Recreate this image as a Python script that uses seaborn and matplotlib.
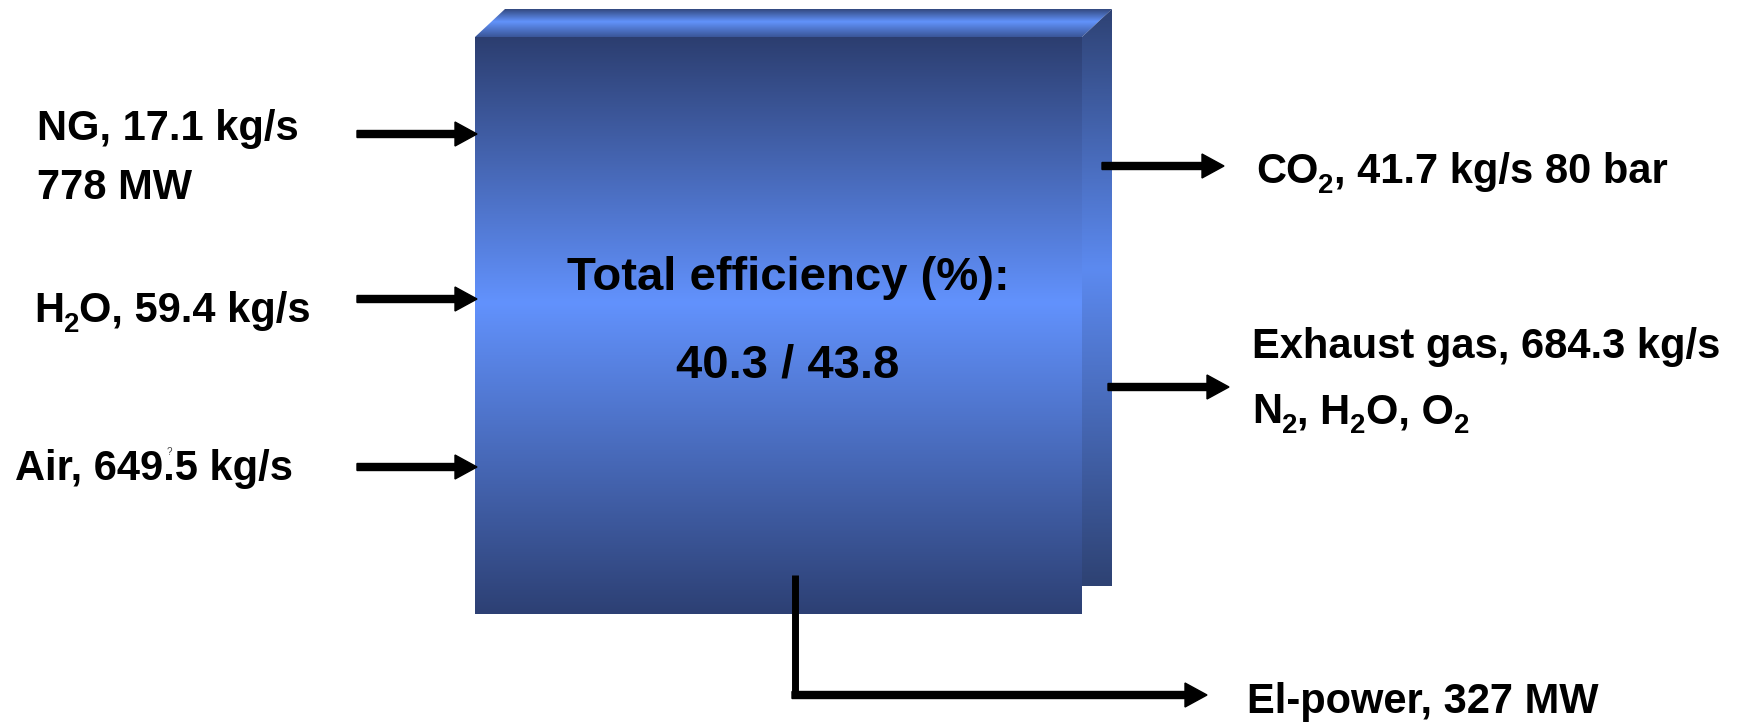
import re
import numpy as np
import matplotlib
matplotlib.use("Agg")
import matplotlib.pyplot as plt
from matplotlib.patches import Polygon
from matplotlib.colors import LinearSegmentedColormap
import seaborn as sns

# ---- labels of the process streams ("_2" marks a subscript digit) ----
inflow_labels = ["NG, 17.1 kg/s", "778 MW", "H_2O, 59.4 kg/s", "Air, 649.5 kg/s"]
outflow_labels = ["CO_2, 41.7 kg/s 80 bar", "Exhaust gas, 684.3 kg/s",
                  "N_2, H_2O, O_2", "El-power, 327 MW"]
efficiency_title = "Total efficiency (%):"
efficiency_values = [40.3, 43.8]

sns.set_theme(style="white")
plt.rcParams["font.family"] = ["Liberation Sans", "DejaVu Sans"]
plt.rcParams["text.color"] = "black"

W, H = 1749, 724
fig = plt.figure(figsize=(W / 100, H / 100), dpi=100)
ax = fig.add_axes([0, 0, 1, 1])
ax.set_xlim(0, W)
ax.set_ylim(H, 0)
ax.axis("off")

# ---- the unit block, drawn as a shaded 3-D box ----
face_cmap = LinearSegmentedColormap.from_list(
    "face", [(0.0, "#2c3e70"), (0.46, "#6292fd"), (1.0, "#2d4074")])
top_cmap = LinearSegmentedColormap.from_list(
    "top", [(0.0, "#33497f"), (0.45, "#6293fb"), (1.0, "#3a5698")])
side_cmap = LinearSegmentedColormap.from_list(
    "side", [(0.0, "#2e4274"), (0.45, "#5c8af0"), (1.0, "#2e4273")])

fx0, fx1, fy0, fy1 = 475, 1082, 37, 614
dx, dy = 30, 28
grad = np.linspace(0, 1, 256).reshape(-1, 1)

def shaded(poly, cmap, x0, x1, y0, y1):
    patch = Polygon(poly, closed=True, facecolor="none", edgecolor="none")
    ax.add_patch(patch)
    im = ax.imshow(grad, cmap=cmap, aspect="auto", origin="upper",
                   extent=(x0, x1, y1, y0), interpolation="bilinear", zorder=1)
    im.set_clip_path(patch)

front = [(fx0, fy0), (fx1, fy0), (fx1, fy1), (fx0, fy1)]
top = [(fx0, fy0), (fx0 + dx, fy0 - dy), (fx1 + dx, fy0 - dy), (fx1, fy0)]
side = [(fx1, fy0), (fx1 + dx, fy0 - dy), (fx1 + dx, fy1 - dy), (fx1, fy1)]
shaded(front, face_cmap, fx0, fx1, fy0, fy1)
shaded(top, top_cmap, fx0, fx1 + dx, fy0 - dy, fy0)
shaded(side, side_cmap, fx1, fx1 + dx, fy0 - dy, fy1 - dy)

ax.set_xlim(0, W)
ax.set_ylim(H, 0)

# ---- stream arrows ----
arrow_kw = dict(width=7, head_width=24, head_length=22,
                length_includes_head=True, color="black", zorder=3)
for y in (134, 299, 467):
    ax.arrow(357, y, 120, 0, **arrow_kw)
ax.arrow(1102, 166, 122, 0, **arrow_kw)
ax.arrow(1108, 387, 121, 0, **arrow_kw)
ax.plot([795, 795], [575, 698], color="black", lw=5, solid_capstyle="butt", zorder=3)
ax.arrow(792, 695, 415, 0, **arrow_kw)

# ---- labels, written piece by piece so subscripts sit low and small ----
renderer = fig.canvas.get_renderer()
fs = 30

def label(x, y, s, size=fs):
    for piece in re.split(r"(_\d)", s):
        if not piece:
            continue
        sub = piece.startswith("_")
        text = piece[1:] if sub else piece
        t = ax.text(x, y + (10 if sub else 0), text,
                    fontsize=size * (0.66 if sub else 1.0), fontweight="bold",
                    color="black", ha="left", va="baseline", zorder=4)
        bb = t.get_window_extent(renderer=renderer)
        x += bb.width

in_pos = [(37, 140), (37, 199), (34, 322), (15, 480)]
for s, (x, y) in zip(inflow_labels, in_pos):
    label(x, y, s)
ax.text(169, 455, "?", fontsize=7, color="#444444", ha="center", va="baseline",
        fontweight="normal", zorder=5)

out_pos = [(1256, 183), (1252, 358), (1252, 423), (1247, 713)]
for s, (x, y) in zip(outflow_labels, out_pos):
    label(x, y, s)

ax.text(788, 290, efficiency_title, fontsize=34, fontweight="bold", color="black",
        ha="center", va="baseline", zorder=4)
ax.text(788, 377, f"{efficiency_values[0]} / {efficiency_values[1]}", fontsize=34,
        fontweight="bold", color="black", ha="center", va="baseline", zorder=4)

fig.savefig("out.png", dpi=100, facecolor="white")
